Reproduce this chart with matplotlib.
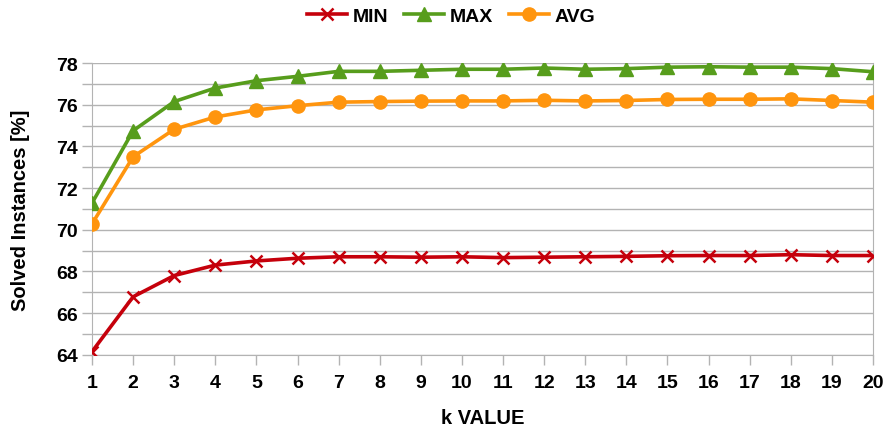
import matplotlib.pyplot as plt
from matplotlib.ticker import MultipleLocator

k_values = list(range(1, 21))

min_vals = [64.15, 66.78, 67.8, 68.3, 68.5, 68.63, 68.7, 68.7, 68.68, 68.7,
            68.66, 68.68, 68.7, 68.72, 68.75, 68.76, 68.76, 68.8, 68.76, 68.76]
max_vals = [71.28, 74.75, 76.15, 76.8, 77.15, 77.36, 77.6, 77.6, 77.65, 77.7,
            77.7, 77.76, 77.7, 77.73, 77.8, 77.82, 77.8, 77.8, 77.73, 77.58]
avg_vals = [70.28, 73.5, 74.82, 75.41, 75.75, 75.95, 76.12, 76.15, 76.17, 76.18,
            76.18, 76.21, 76.18, 76.2, 76.25, 76.26, 76.26, 76.28, 76.2, 76.12]

plt.rcParams['font.family'] = ['Liberation Sans', 'DejaVu Sans']
plt.rcParams['font.weight'] = 'bold'

fig = plt.figure(figsize=(8.85, 4.31), dpi=100)
ax = fig.add_axes([0.104, 0.1747, 0.8824, 0.6768])

ax.plot(k_values, min_vals, color='#c5000b', lw=2.6, marker='x', ms=8.5, mew=1.8, label='MIN', zorder=3)
ax.plot(k_values, max_vals, color='#579d1c', lw=2.6, marker='^', ms=9.5, label='MAX', zorder=3)
ax.plot(k_values, avg_vals, color='#ff950e', lw=2.6, marker='o', ms=9.5, label='AVG', zorder=3)

ax.set_xlim(1, 20)
ax.set_ylim(64, 78)
ax.set_xticks(k_values)
ax.yaxis.set_major_locator(MultipleLocator(2))
ax.yaxis.set_minor_locator(MultipleLocator(1))
ax.grid(True, which='both', axis='y', color='#b3b3b3', lw=1)
ax.set_axisbelow(True)

for side in ['left', 'right', 'bottom']:
    ax.spines[side].set_color('#b3b3b3')
ax.spines['top'].set_visible(False)

ax.tick_params(axis='both', which='both', color='#b3b3b3', length=7, width=1)
ax.tick_params(axis='y', which='minor', length=7)
ax.tick_params(axis='y', labelsize=14, pad=3)
ax.tick_params(axis='x', labelsize=14, pad=7)

ax.set_xlabel('k VALUE', fontsize=14.5, fontweight='bold')
ax.set_ylabel('Solved Instances [%]', fontsize=14.5, fontweight='bold')
ax.xaxis.set_label_coords(0.5, -0.214)
ax.xaxis.label.set_va('center')
ax.yaxis.set_label_coords(-0.092, 0.5)
ax.yaxis.label.set_va('center')

fig.legend(*ax.get_legend_handles_labels(), loc='center', bbox_to_anchor=(0.51, 0.961),
           ncol=3, frameon=False, fontsize=14, handlelength=2.05,
           columnspacing=0.8, handletextpad=0.3, borderpad=0)

fig.savefig('out.png', dpi=100)
